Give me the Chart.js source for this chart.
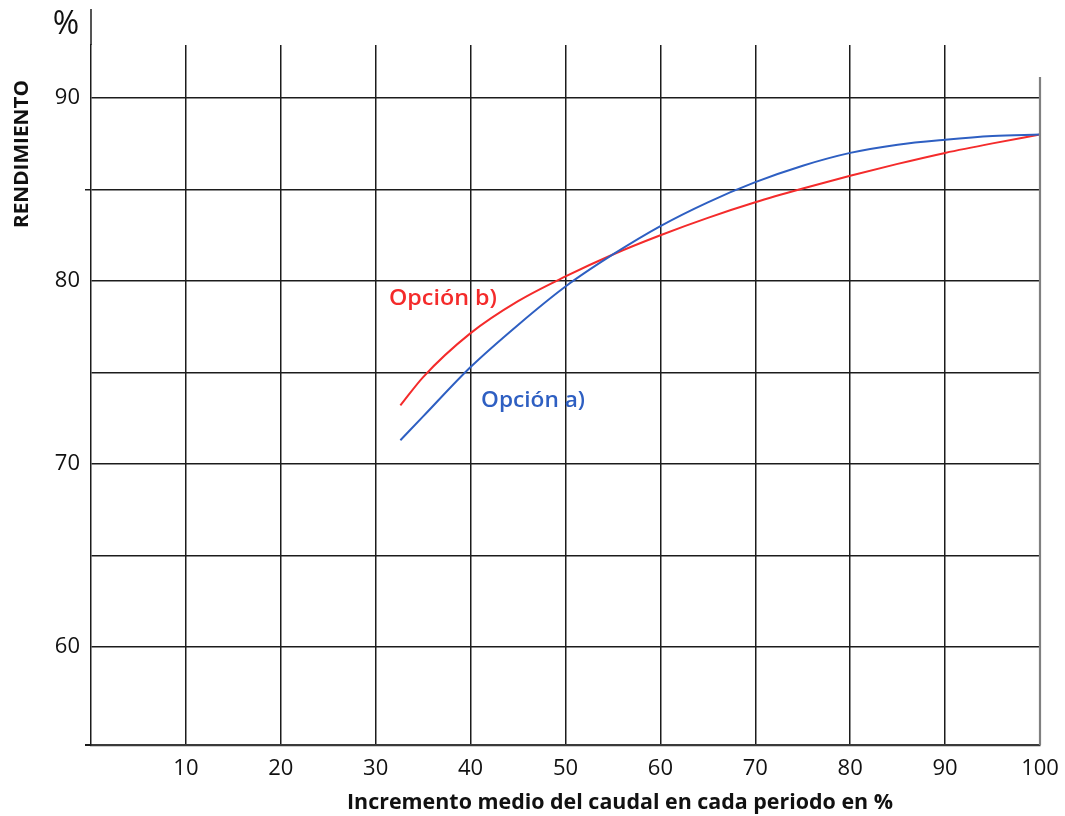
<!DOCTYPE html>
<html>
<head>
<meta charset="utf-8">
<script src="https://cdn.jsdelivr.net/npm/chart.js@4.4.1/dist/chart.umd.min.js"></script>
<style>
  html, body { margin: 0; padding: 0; background: #fff; }
  canvas { display: block; }
</style>
</head>
<body>
<canvas id="c" width="1065" height="816"></canvas>
<script>
// Caudal increment (%) and efficiency (%) for each option
const xOptionA = [32.6, 35, 40, 45, 50, 55, 60, 65, 70, 75, 80, 85, 90, 95, 100];
const yOptionA = [71.3, 72.6, 75.3, 77.6, 79.7, 81.45, 83.0, 84.3, 85.4, 86.3, 87.0, 87.45, 87.72, 87.92, 88.0];
const xOptionB = [32.6, 35, 40, 45, 50, 55, 60, 65, 70, 75, 80, 85, 90, 95, 100];
const yOptionB = [73.2, 74.75, 77.15, 78.9, 80.25, 81.45, 82.5, 83.45, 84.3, 85.05, 85.75, 86.4, 87.0, 87.52, 88.0];

// Axis ticks
const xTicks = [0, 10, 20, 30, 40, 50, 60, 70, 80, 90, 100];
const yTicks = [60, 65, 70, 75, 80, 85, 90];
const yLabelled = [60, 70, 80, 90];

const toPoints = (xs, ys) => xs.map((x, i) => ({ x, y: ys[i] }));

const INK = '#1c1c1c';
const RED = '#f42b2b';
const BLUE = '#2e5fc2';
const FONT = '"Open Sans", "Noto Sans", sans-serif';

// Draws text squeezed/stretched horizontally to a given width
function fitText(ctx, text, x, y, width, font, color, baseline) {
  ctx.save();
  ctx.font = font;
  ctx.fillStyle = color;
  ctx.textAlign = 'left';
  ctx.textBaseline = baseline || 'middle';
  const w = ctx.measureText(text).width;
  ctx.translate(x, y);
  ctx.scale(width / w, 1);
  ctx.fillText(text, 0, 0);
  ctx.restore();
}

const decorations = {
  id: 'decorations',
  afterDraw(chart) {
    const { ctx, chartArea: a, scales } = chart;
    const xs = scales.x, ys = scales.y;

    ctx.save();
    // y axis continues above the plot area
    ctx.strokeStyle = INK;
    ctx.lineWidth = 1.5;
    ctx.beginPath();
    ctx.moveTo(a.left, a.top);
    ctx.lineTo(a.left, 9);
    ctx.stroke();

    // small stub of the base line left of the axis
    ctx.lineWidth = 2;
    ctx.beginPath();
    ctx.moveTo(a.left - 6, a.bottom);
    ctx.lineTo(a.left, a.bottom);
    ctx.stroke();

    // right border at 100 %, lighter and shorter
    const xr = xs.getPixelForValue(100);
    ctx.strokeStyle = '#808080';
    ctx.lineWidth = 2.2;
    ctx.beginPath();
    ctx.moveTo(xr, ys.getPixelForValue(91.15));
    ctx.lineTo(xr, a.bottom);
    ctx.stroke();
    ctx.restore();

    // unit sign
    ctx.save();
    ctx.font = '32px ' + FONT;
    ctx.fillStyle = '#111';
    ctx.textAlign = 'center';
    ctx.textBaseline = 'middle';
    ctx.fillText('%', 66, 25);
    ctx.restore();

    // vertical axis title
    ctx.save();
    ctx.translate(22, 228);
    ctx.rotate(-Math.PI / 2);
    fitText(ctx, 'RENDIMIENTO', 0, 0, 148, 'bold 20px ' + FONT, '#111');
    ctx.restore();

    // horizontal axis title
    fitText(ctx, 'Incremento medio del caudal en cada periodo en %', 347, 803, 546,
      'bold 22px ' + FONT, '#111');

    // series labels
    fitText(ctx, 'Opción b)', xs.getPixelForValue(31.4), ys.getPixelForValue(79.0), 108,
      '600 21px ' + FONT, RED);
    fitText(ctx, 'Opción a)', xs.getPixelForValue(41.1), ys.getPixelForValue(73.45), 104,
      '600 21px ' + FONT, BLUE);
  }
};

new Chart(document.getElementById('c'), {
  type: 'line',
  data: {
    datasets: [
      {
        label: 'Opción a)',
        data: toPoints(xOptionA, yOptionA),
        borderColor: BLUE,
        borderWidth: 2,
        pointRadius: 0,
        cubicInterpolationMode: 'monotone',
        fill: false
      },
      {
        label: 'Opción b)',
        data: toPoints(xOptionB, yOptionB),
        borderColor: RED,
        borderWidth: 2,
        pointRadius: 0,
        cubicInterpolationMode: 'monotone',
        fill: false
      }
    ]
  },
  options: {
    responsive: false,
    animation: false,
    layout: { padding: { top: 45, right: 25, left: 0, bottom: 0 } },
    plugins: {
      legend: { display: false },
      tooltip: { enabled: false }
    },
    scales: {
      x: {
        type: 'linear',
        min: 0,
        max: 100,
        afterBuildTicks(scale) { scale.ticks = xTicks.map(v => ({ value: v })); },
        afterFit(scale) {
          scale.height = 71;
          scale.paddingLeft = 0;
          scale.paddingRight = 0;
        },
        ticks: {
          color: '#111',
          font: { family: FONT, size: 22 },
          padding: 11,
          maxRotation: 0,
          autoSkip: false,
          callback: v => (v === 0 ? '' : String(v))
        },
        grid: {
          drawTicks: false,
          lineWidth: 1.5,
          color: c => (c.tick && (c.tick.value === 0 || c.tick.value === 100) ? 'rgba(0,0,0,0)' : INK)
        },
        border: { display: true, color: '#3a3a3a', width: 2.2 }
      },
      y: {
        type: 'linear',
        min: 54.645,
        max: 92.896,
        afterBuildTicks(scale) { scale.ticks = yTicks.map(v => ({ value: v })); },
        afterFit(scale) {
          scale.width = 91;
          scale.paddingTop = 0;
          scale.paddingBottom = 0;
        },
        ticks: {
          color: '#111',
          font: { family: FONT, size: 22 },
          padding: 5,
          autoSkip: false,
          callback: v => (yLabelled.includes(v) ? String(v) : '')
        },
        grid: {
          drawTicks: true,
          tickLength: 6,
          lineWidth: 1.5,
          color: INK,
          tickColor: c => (c.tick && c.tick.value === 85 ? INK : 'rgba(0,0,0,0)')
        },
        border: { display: true, color: INK, width: 1.5 }
      }
    }
  },
  plugins: [decorations]
});
</script>
</body>
</html>
